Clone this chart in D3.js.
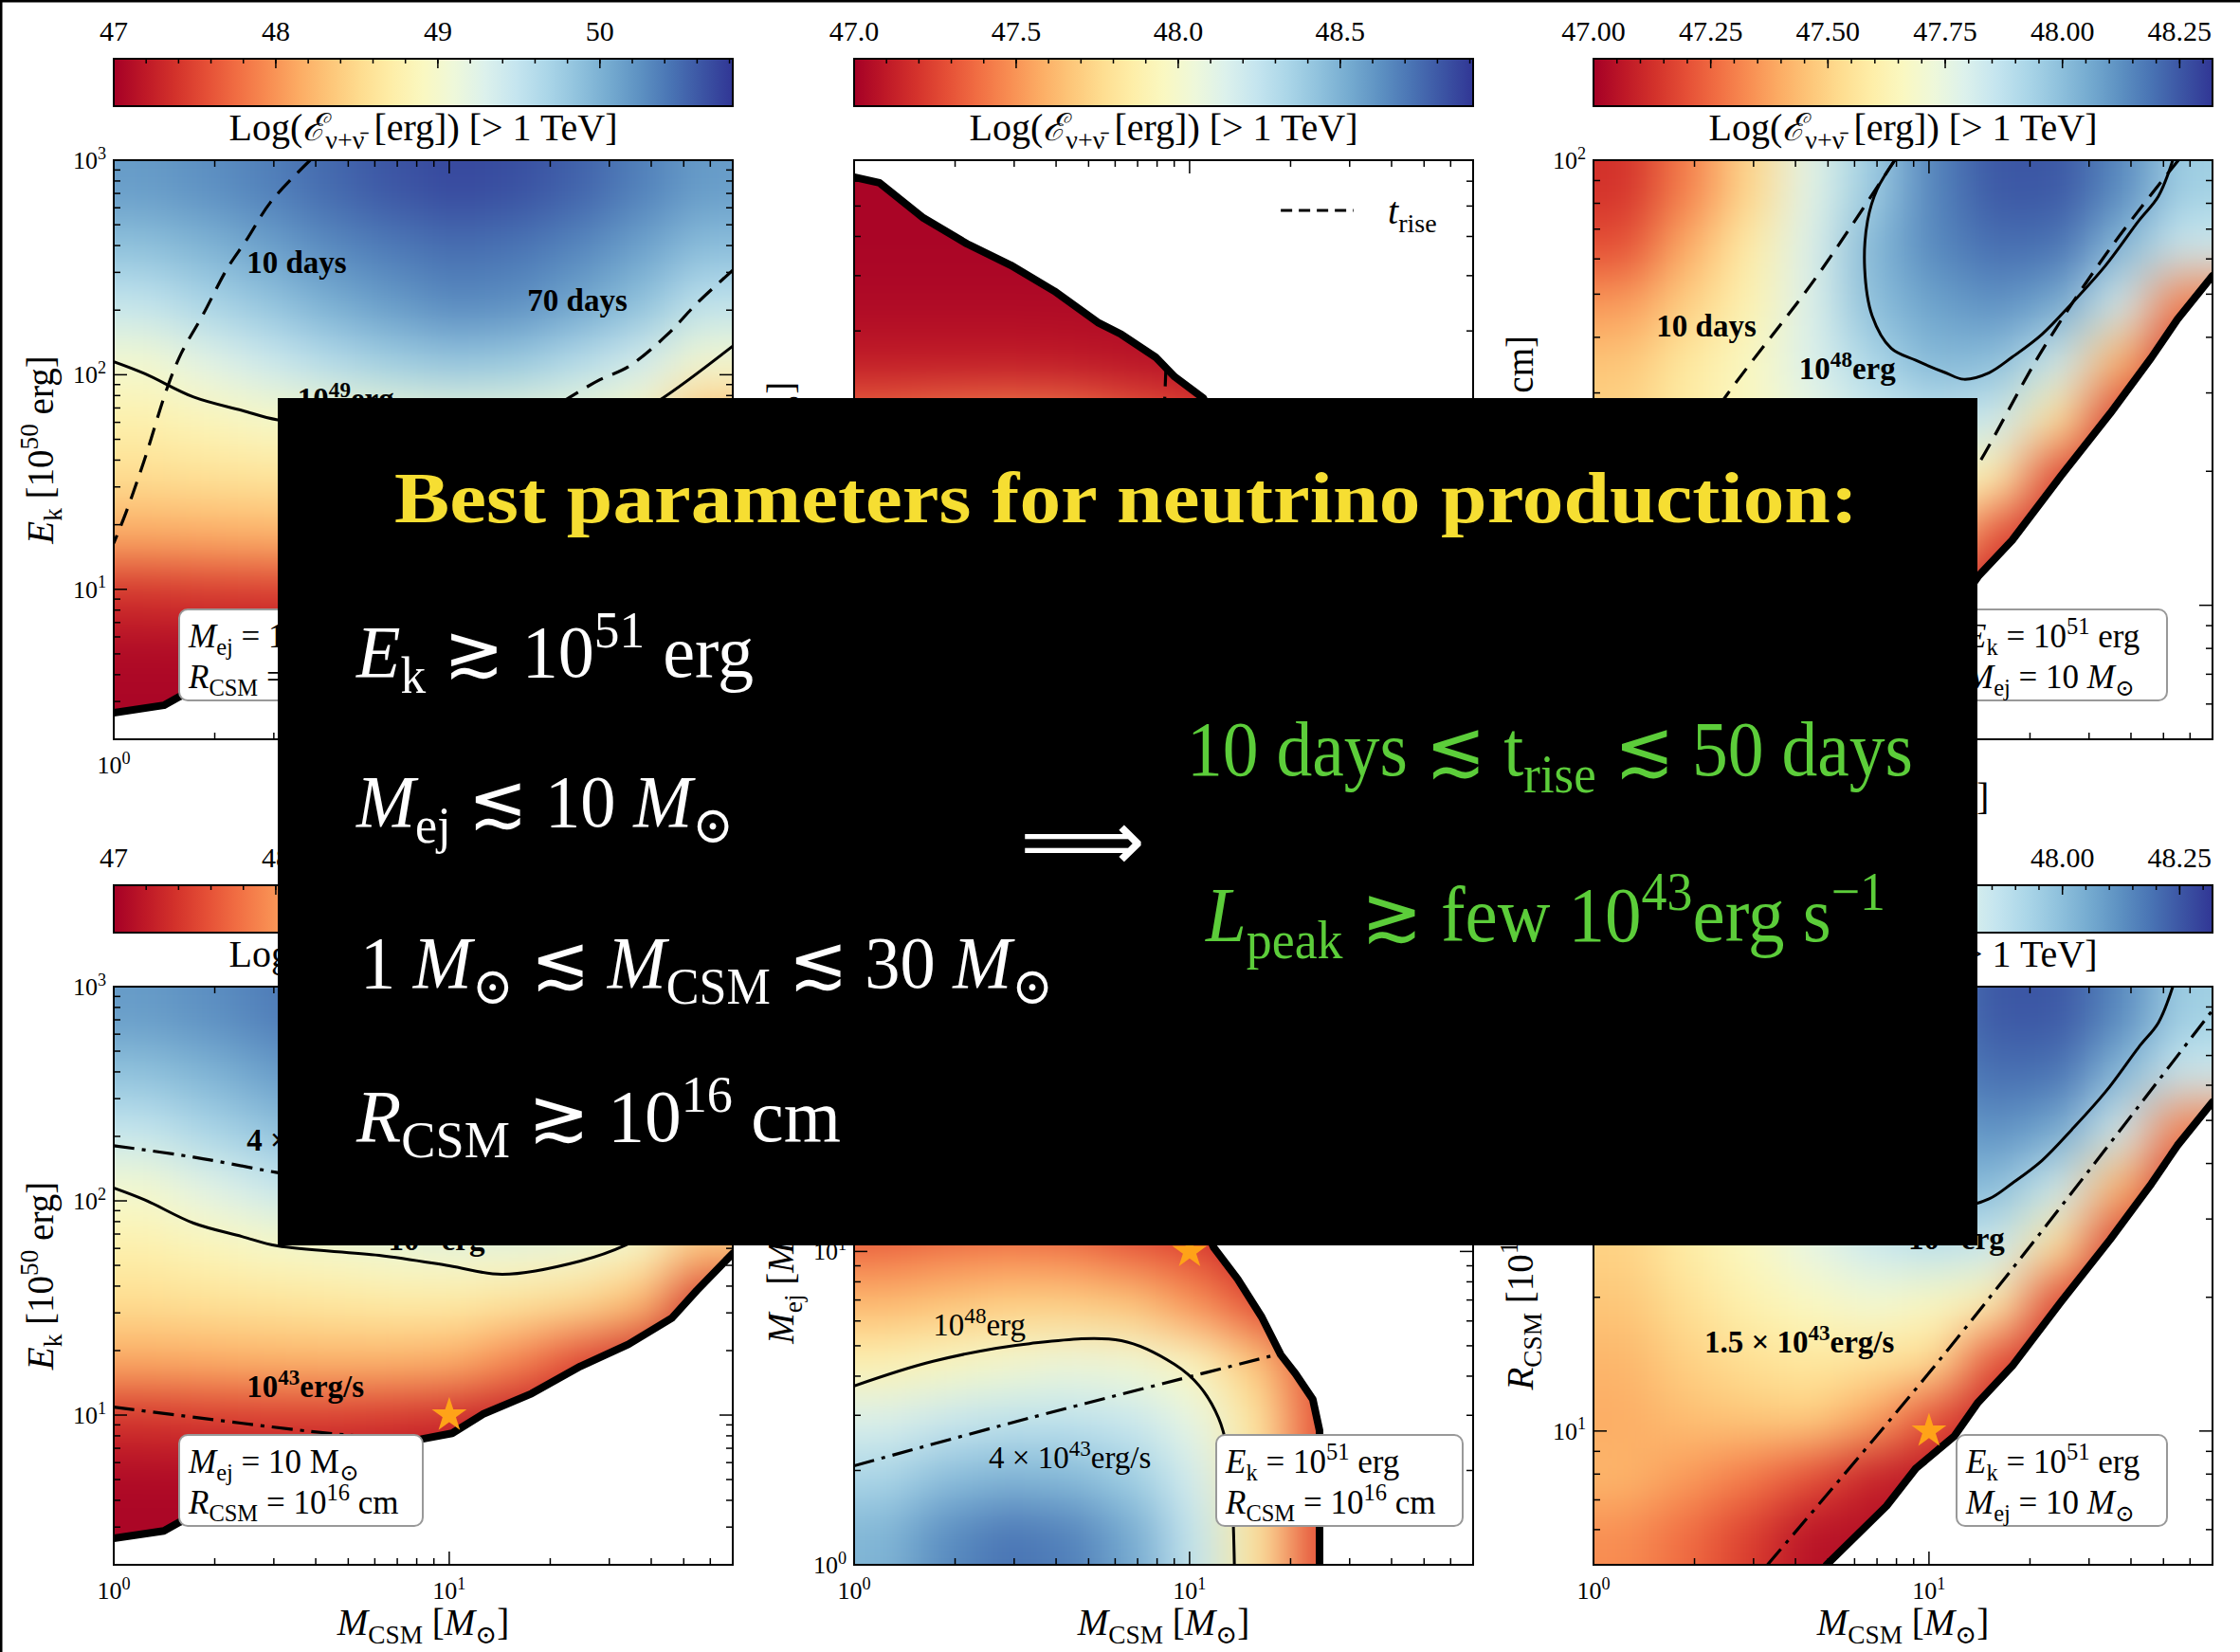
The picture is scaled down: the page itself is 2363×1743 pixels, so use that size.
<!DOCTYPE html>
<html>
<head>
<meta charset="utf-8">
<script src="https://cdn.jsdelivr.net/npm/d3@7"></script>
<style>
  body { margin: 0; background: #fff; }
  text { font-family: "Liberation Serif", "DejaVu Serif", serif; white-space: pre; }
</style>
</head>
<body>
<div id="chart"></div>
<script>
// axis ranges, M_CSM on x for every panel
const mcsmDomain = [1, 70]
const ekDomain = [2, 1000]
const mejDomain = [1, 70]
const rcsmDomain = [5, 100]

const mcsmTicks = [1, 10]
const ekTicks = [10, 100, 1000]
const mejTicks = [1, 10]
const rcsmTicks = [10, 100]

// colour bars, Log(E_nu [erg]) above 1 TeV
const cbDomainEk = [47, 50.82]
const cbDomainMej = [47, 48.91]
const cbDomainRcsm = [47, 48.32]
const cbTicksEk = [47, 48, 49, 50]
const cbTicksMej = [47.0, 47.5, 48.0, 48.5]
const cbTicksRcsm = [47.00, 47.25, 47.50, 47.75, 48.00, 48.25]
const cbMinorEk = 0.2, cbMinorMej = 0.1, cbMinorRcsm = 0.05

// Log(E_nu): rows from top to bottom, columns from M_CSM = 1 to 70
const energyEk = [
  [50.17, 50.25, 50.36, 50.51, 50.63, 50.71, 50.67, 50.55, 50.36, 50.17],
  [49.87, 49.98, 50.13, 50.29, 50.40, 50.48, 50.44, 50.32, 50.13, 49.90],
  [49.48, 49.67, 49.83, 50.02, 50.17, 50.29, 50.25, 50.09, 49.87, 49.52],
  [49.02, 49.22, 49.41, 49.60, 49.75, 49.83, 49.79, 49.60, 49.37, 49.02],
  [48.76, 48.85, 48.95, 48.99, 49.06, 49.10, 49.10, 49.06, 48.91, 48.30],
  [48.53, 48.57, 48.60, 48.64, 48.68, 48.68, 48.60, 48.50, 48.25, 47.40],
  [48.13, 48.15, 48.18, 48.20, 48.20, 48.15, 47.90, 47.55, 47.30, 47.10],
  [47.38, 47.42, 47.44, 47.44, 47.40, 47.33, 47.22, 47.12, 47.06, 47.04],
  [47.08, 47.08, 47.08, 47.08, 47.08, 47.06, 47.04, 47.04, 47.04, 47.04],
  [47.04, 47.04, 47.04, 47.04, 47.04, 47.04, 47.04, 47.04, 47.04, 47.04]
]
const energyMej = [
  [47.02, 47.02, 47.02, 47.02, 47.02, 47.02, 47.02, 47.02, 47.02, 47.02],
  [47.02, 47.02, 47.02, 47.02, 47.02, 47.02, 47.02, 47.02, 47.02, 47.02],
  [47.04, 47.04, 47.04, 47.04, 47.04, 47.04, 47.04, 47.04, 47.04, 47.04],
  [47.11, 47.11, 47.11, 47.10, 47.08, 47.06, 47.04, 47.02, 47.02, 47.02],
  [47.38, 47.42, 47.44, 47.42, 47.34, 47.27, 47.11, 47.04, 47.02, 47.02],
  [47.63, 47.67, 47.71, 47.71, 47.67, 47.50, 47.30, 47.10, 47.04, 47.02],
  [47.90, 47.96, 48.01, 48.05, 48.03, 47.94, 47.68, 47.30, 47.08, 47.04],
  [48.15, 48.22, 48.26, 48.26, 48.22, 48.09, 47.82, 47.32, 47.08, 47.04],
  [48.34, 48.45, 48.49, 48.47, 48.38, 48.18, 47.82, 47.30, 47.08, 47.04],
  [48.49, 48.64, 48.72, 48.68, 48.53, 48.24, 47.82, 47.30, 47.08, 47.04]
]
const energyRcsm = [
  [47.13, 47.30, 47.51, 47.77, 47.96, 48.15, 48.25, 48.25, 48.14, 47.95],
  [47.20, 47.40, 47.59, 47.79, 48.02, 48.14, 48.20, 48.19, 48.02, 47.84],
  [47.36, 47.49, 47.62, 47.79, 48.00, 48.08, 48.12, 48.06, 47.82, 47.30],
  [47.46, 47.57, 47.66, 47.79, 47.92, 48.02, 48.00, 47.83, 47.42, 47.12],
  [47.50, 47.59, 47.66, 47.75, 47.83, 47.87, 47.83, 47.55, 47.15, 47.10],
  [47.46, 47.54, 47.61, 47.66, 47.70, 47.66, 47.60, 47.18, 47.10, 47.10],
  [47.42, 47.49, 47.54, 47.57, 47.55, 47.53, 47.20, 47.10, 47.10, 47.10],
  [47.40, 47.44, 47.46, 47.48, 47.38, 47.20, 47.08, 47.08, 47.08, 47.08],
  [47.42, 47.36, 47.29, 47.20, 47.09, 47.06, 47.06, 47.06, 47.06, 47.06],
  [47.33, 47.26, 47.16, 47.05, 47.04, 47.04, 47.04, 47.04, 47.04, 47.04]
]

// edge of the computed region (thick black line), [M_CSM, y]
const edgeEk = [[1, 2.66], [1.41, 2.88], [1.57, 3.16], [2.2, 4.0], [4.5, 5.8], [8.34, 7.74], [10.2, 8.22],
  [12.6, 10.1], [17.6, 12.6], [24.6, 16.9], [34.2, 21.4], [46.1, 28.4], [54.7, 38.2], [70, 56.8]]
const edgeMej = [[1, 61.8], [1.19, 59.3], [1.61, 45.8], [2.17, 37.9], [2.93, 32.4], [3.95, 26.8], [5.32, 21.3],
  [6.26, 19.5], [7.92, 16.5], [9.02, 14.3], [11.0, 12.2], [11.8, 10.3], [13.9, 8.17], [16.4, 6.18],
  [18.7, 4.68], [20.7, 4.07], [23.3, 3.37], [24.4, 2.68], [24.4, 1]]
const edgeRcsm = [[4.95, 5], [7.47, 6.78], [9.14, 8.24], [11.9, 9.74], [14.0, 11.6], [17.7, 14.0],
  [24.7, 19.5], [34.7, 27], [46, 36], [55, 43.9], [70, 55]]

// neutrino energy contours (solid)
const erg49Ek = [[1, 115], [1.24, 101], [1.73, 78.7], [2.41, 68.2], [3.08, 61.6], [6.18, 55.7], [10, 49.8],
  [14.4, 45.4], [24.6, 52.4], [33.6, 62.2], [43.3, 77.9], [70, 136]]
const erg48Mej = [[1, 3.72], [1.72, 4.46], [3.33, 5.08], [6.26, 5.19], [9.02, 4.36], [10.7, 3.72],
  [12.2, 2.94], [13.0, 2.29], [13.4, 1.61], [13.6, 1]]
const erg48Rcsm = [[7.92, 100], [7.0, 85.9], [6.56, 73.1], [6.43, 57.2], [6.77, 44.7], [7.71, 37.8],
  [9.14, 35.5], [11.2, 33.3], [12.7, 32.2], [15.1, 33.3], [17.7, 36.1], [21.7, 40.6], [26.6, 47.6],
  [33.6, 58.0], [42.2, 73.1], [48.3, 83.0], [53.3, 100]]

// rise time contours (dashed, top row)
const rise10Ek = [[3.85, 1000], [2.94, 640], [2.49, 426], [2.18, 313], [1.84, 189], [1.59, 126],
  [1.44, 86], [1.24, 41], [1.09, 23], [1.0, 16.4]]
const rise70Ek = [[70, 307], [54.7, 215], [44.7, 154], [34.2, 109], [28.2, 95], [23.0, 79], [18, 62]]
const riseMej = [[8.5, 15.2], [8.4, 11]]
const rise10Rcsm = [[7.9, 100], [4.67, 55.3], [2.49, 29.6], [1, 11]]
const riseRightRcsm = [[55.4, 100], [34.7, 63.4], [21.7, 37.3], [14.0, 20.7], [12, 17.5]]

// peak luminosity contours (dash-dot, bottom row)
const lum4Ek = [[1, 181], [1.73, 160], [3.04, 136], [5, 120]]
const lum1Ek = [[1, 10.9], [3.84, 8.4], [7, 7.7]]
const lum4Mej = [[1, 2.07], [3.33, 2.94], [18.1, 4.68]]
const lum15Rcsm = [[3.3, 5.0], [9.75, 13.2], [21.0, 27.3], [70, 88.5]]

// fiducial model (star)
const starEk = [10, 10]
const starMej = [10, 10]
const starRcsm = [10, 10]

// inline contour labels [text, M_CSM, y]
const labelsEkTop = [["10 days", 2.49, 298], ["70 days", 17.1, 198], ["10^{49}erg", 3.53, 68.9]]
const labelsEkBottom = [["4 × 10^{43}erg/s", 2.49, 172], ["10^{43}erg/s", 2.49, 12.1], ["10^{49}erg", 6.58, 58.6]]
const labelsMejTop = []
const labelsMejBottom = [["10^{48}erg", 1.72, 5.38], ["4 × 10^{43}erg/s", 2.52, 2.03]]
const labelsRcsmTop = [["10 days", 1.54, 40.2], ["10^{48}erg", 4.10, 32.2]]
const labelsRcsmBottom = [["1.5 × 10^{43}erg/s", 2.14, 15.0], ["10^{48}erg", 8.67, 25.7]]

// legend of the rise-time line in the top middle panel [M_CSM, M_ej]
const riseKeyLine = [[18.7, 48.4], [30.8, 48.4]]
const riseKeyText = [39, 44]

const legendEk = ["*M*_{ej} = 10 M_{⊙}", "*R*_{CSM} = 10^{16} cm"]
const legendMej = ["*E*_{k} = 10^{51} erg", "*R*_{CSM} = 10^{16} cm"]
const legendRcsm = ["*E*_{k} = 10^{51} erg", "*M*_{ej} = 10 *M*_{⊙}"]

// ---------- layout ----------
const W = 2363, H = 1743
const colX = [120, 901, 1681]
const panelW = 653
const rows = [{ cbTop: 62, top: 169, bottom: 780 }, { cbTop: 934, top: 1041, bottom: 1651 }]
const legendPos = [{ dx: 69, w: 257 }, { dx: 382, w: 260 }, { dx: 383, w: 222 }]

const columns = [
  { key: "ek", yDomain: ekDomain, yTicks: ekTicks, yLabel: "*E*_{k} [10^{50} erg]", field: energyEk,
    cbDomain: cbDomainEk, cbTicks: cbTicksEk, cbMinor: cbMinorEk, cbFmt: d3.format("d"),
    edge: edgeEk, region: edgeEk.concat([[70, 1000], [1, 1000]]), erg: erg49Ek,
    lines: [[rise10Ek, rise70Ek], [lum4Ek, lum1Ek]], labels: [labelsEkTop, labelsEkBottom],
    bold: true, legend: legendEk, star: starEk },
  { key: "mej", yDomain: mejDomain, yTicks: mejTicks, yLabel: "*M*_{ej} [*M*_{⊙}]", field: energyMej,
    cbDomain: cbDomainMej, cbTicks: cbTicksMej, cbMinor: cbMinorMej, cbFmt: d3.format(".1f"),
    edge: edgeMej, region: edgeMej.concat([[1, 1]]), erg: erg48Mej,
    lines: [[riseMej], [lum4Mej]], labels: [labelsMejTop, labelsMejBottom],
    bold: false, legend: legendMej, star: starMej },
  { key: "rcsm", yDomain: rcsmDomain, yTicks: rcsmTicks, yLabel: "*R*_{CSM} [10^{15} cm]", field: energyRcsm,
    cbDomain: cbDomainRcsm, cbTicks: cbTicksRcsm, cbMinor: cbMinorRcsm, cbFmt: d3.format(".2f"),
    edge: edgeRcsm, region: edgeRcsm.concat([[70, 100], [1, 100], [1, 5]]), erg: erg48Rcsm,
    lines: [[rise10Rcsm, riseRightRcsm], [lum15Rcsm]], labels: [labelsRcsmTop, labelsRcsmBottom],
    bold: true, legend: legendRcsm, star: starRcsm }
]

const svg = d3.select("#chart").append("svg")
  .attr("width", W).attr("height", H).style("display", "block")
svg.append("rect").attr("width", W).attr("height", H).attr("fill", "#fff")
const defs = svg.append("defs")
const soft = defs.append("filter").attr("id", "soft")
  .attr("x", "-10%").attr("y", "-10%").attr("width", "120%").attr("height", "120%")
  .attr("color-interpolation-filters", "sRGB")
soft.append("feGaussianBlur").attr("stdDeviation", 26)

// *..* italic, _{..} subscript, ^{..} superscript
function rich(sel, str, fs) {
  const parts = []
  let i = 0, ital = false, buf = ""
  const flush = () => { if (buf) parts.push({ t: buf, i: ital, s: 0 }); buf = "" }
  while (i < str.length) {
    const ch = str[i]
    if (ch === "*") { flush(); ital = !ital; i++ }
    else if ((ch === "_" || ch === "^") && str[i + 1] === "{") {
      flush()
      const end = str.indexOf("}", i)
      parts.push({ t: str.slice(i + 2, end), i: ital, s: ch === "_" ? 1 : -1 })
      i = end + 1
    } else { buf += ch; i++ }
  }
  flush()
  let off = 0
  parts.forEach(p => {
    const target = p.s === 1 ? 0.22 * fs : p.s === -1 ? -0.4 * fs : 0
    const ts = sel.append("tspan").text(p.t).attr("dy", target - off)
    off = target
    if (p.s) ts.attr("font-size", 0.7 * fs)
    if (p.i && p.s !== 1) ts.attr("font-style", "italic")
  })
  return sel
}

function drawColorbar(g, col, color, x0, top) {
  const id = "grad-" + col.key
  if (defs.select("#" + id).empty()) {
    const grad = defs.append("linearGradient").attr("id", id)
    d3.range(0, 1.0001, 0.05).forEach(t => grad.append("stop").attr("offset", t)
      .attr("stop-color", color(col.cbDomain[0] + t * (col.cbDomain[1] - col.cbDomain[0]))))
  }
  const s = d3.scaleLinear().domain(col.cbDomain).range([x0, x0 + panelW])
  g.append("rect").attr("x", x0).attr("y", top).attr("width", panelW).attr("height", 50)
    .attr("fill", `url(#${id})`).attr("stroke", "#000").attr("stroke-width", 2)
  const minors = d3.range(col.cbDomain[0], col.cbDomain[1], col.cbMinor)
  g.selectAll(null).data(minors).join("line")
    .attr("x1", d => s(d)).attr("x2", d => s(d)).attr("y1", top).attr("y2", top + 5)
    .attr("stroke", "#000").attr("stroke-width", 1.5)
  g.selectAll(null).data(col.cbTicks).join("line")
    .attr("x1", d => s(d)).attr("x2", d => s(d)).attr("y1", top).attr("y2", top + 10)
    .attr("stroke", "#000").attr("stroke-width", 1.5)
  g.selectAll(null).data(col.cbTicks).join("text")
    .attr("x", d => s(d)).attr("y", top - 19).attr("text-anchor", "middle")
    .attr("font-size", 30).text(col.cbFmt)
  const lab = g.append("text").attr("x", x0 + panelW / 2).attr("y", top + 86)
    .attr("text-anchor", "middle").attr("font-size", 40)
  rich(lab, "Log(*ℰ*_{ν+ν̄} [erg]) [> 1 TeV]", 40)
}

function drawPanel(c, r) {
  const col = columns[c]
  const row = rows[r]
  const x0 = colX[c], x1 = x0 + panelW
  const x = d3.scaleLog().domain(mcsmDomain).range([x0, x1])
  const y = d3.scaleLog().domain(col.yDomain).range([row.bottom, row.top])
  const color = d3.scaleSequential(d3.interpolateRdYlBu).domain(col.cbDomain).clamp(true)
  const g = svg.append("g")

  drawColorbar(g, col, color, x0, row.cbTop)

  // heat map clipped to the computed region
  const clipId = "clip-" + c + "-" + r
  defs.append("clipPath").attr("id", clipId).append("path")
    .attr("d", d3.line().x(d => x(d[0])).y(d => y(d[1]))(col.region) + "Z")
  const rectId = "rect-" + c + "-" + r
  defs.append("clipPath").attr("id", rectId).append("rect")
    .attr("x", x0).attr("y", row.top).attr("width", panelW).attr("height", row.bottom - row.top)

  const nR = col.field.length, nC = col.field[0].length
  const bx = d3.scaleBand().domain(d3.range(nC)).range([x0, x1])
  const by = d3.scaleBand().domain(d3.range(nR)).range([row.top, row.bottom])
  const cells = col.field.flatMap((vals, i) => vals.map((v, j) => ({ i, j, v })))
  g.append("g").attr("clip-path", `url(#${clipId})`)
    .append("g").attr("filter", "url(#soft)")
    .selectAll("rect").data(cells).join("rect")
    .attr("x", d => bx(d.j) - (d.j === 0 ? bx.bandwidth() : 0))
    .attr("y", d => by(d.i) - (d.i === 0 ? by.bandwidth() : 0))
    .attr("width", d => bx.bandwidth() * ((d.j === 0 || d.j === nC - 1) ? 2 : 1) + 0.5)
    .attr("height", d => by.bandwidth() * ((d.i === 0 || d.i === nR - 1) ? 2 : 1) + 0.5)
    .attr("fill", d => color(d.v))

  const line = d3.line().x(d => x(d[0])).y(d => y(d[1])).curve(d3.curveCatmullRom.alpha(0.5))
  const plot = g.append("g").attr("clip-path", `url(#${rectId})`)
  plot.append("path").attr("d", line(col.erg)).attr("fill", "none")
    .attr("stroke", "#000").attr("stroke-width", 3)
  col.lines[r].forEach(pts => {
    plot.append("path").attr("d", line(pts)).attr("fill", "none")
      .attr("stroke", "#000").attr("stroke-width", 3.2)
      .attr("stroke-dasharray", r === 0 ? "19,11" : "22,8,4,8")
  })
  plot.append("path").attr("d", d3.line().x(d => x(d[0])).y(d => y(d[1]))(col.edge))
    .attr("fill", "none").attr("stroke", "#000").attr("stroke-width", 8)
    .attr("stroke-linejoin", "round").attr("stroke-linecap", "round")

  // frame and inward ticks on all sides
  g.append("rect").attr("x", x0).attr("y", row.top).attr("width", panelW)
    .attr("height", row.bottom - row.top).attr("fill", "none").attr("stroke", "#000").attr("stroke-width", 2)
  const isDecade = v => Math.abs(Math.log10(v) - Math.round(Math.log10(v))) < 1e-6
  const segs = []
  x.ticks().forEach(v => {
    const L = isDecade(v) ? 14 : 7, p = x(v)
    segs.push([p, row.bottom, p, row.bottom - L], [p, row.top, p, row.top + L])
  })
  y.ticks().forEach(v => {
    const L = isDecade(v) ? 14 : 7, p = y(v)
    segs.push([x0, p, x0 + L, p], [x1, p, x1 - L, p])
  })
  g.selectAll(null).data(segs).join("line")
    .attr("x1", d => d[0]).attr("y1", d => d[1]).attr("x2", d => d[2]).attr("y2", d => d[3])
    .attr("stroke", "#000").attr("stroke-width", 1.5)

  g.selectAll(null).data(mcsmTicks).join("text")
    .attr("x", d => x(d)).attr("y", row.bottom + 36).attr("text-anchor", "middle").attr("font-size", 26)
    .each(function (d) { rich(d3.select(this), `10^{${Math.round(Math.log10(d))}}`, 26) })
  g.selectAll(null).data(col.yTicks).join("text")
    .attr("x", x0 - 8).attr("y", d => y(d) + 9).attr("text-anchor", "end").attr("font-size", 26)
    .each(function (d) { rich(d3.select(this), `10^{${Math.round(Math.log10(d))}}`, 26) })

  rich(g.append("text").attr("x", x0 + panelW / 2).attr("y", row.bottom + 74)
    .attr("text-anchor", "middle").attr("font-size", 39), "*M*_{CSM} [*M*_{⊙}]", 39)
  rich(g.append("text").attr("transform", `translate(${x0 - 64},${(row.top + row.bottom) / 2}) rotate(-90)`)
    .attr("text-anchor", "middle").attr("font-size", 39), col.yLabel, 39)

  // contour labels
  col.labels[r].forEach(l => {
    const t = g.append("text").attr("x", x(l[1])).attr("y", y(l[2])).attr("font-size", 33)
    if (col.bold) t.attr("font-weight", "bold")
    rich(t, l[0], 33)
  })

  // parameter box
  const lp = legendPos[c]
  const ly = row.bottom - 137
  g.append("rect").attr("x", x0 + lp.dx).attr("y", ly).attr("width", lp.w).attr("height", 96)
    .attr("rx", 9).attr("fill", "#fff").attr("stroke", "#999").attr("stroke-width", 2)
  col.legend.forEach((s, k) => {
    rich(g.append("text").attr("x", x0 + lp.dx + 10).attr("y", ly + 40 + 43 * k).attr("font-size", 35), s, 35)
  })

  if (c === 1 && r === 0) {
    g.append("path").attr("d", d3.line().x(d => x(d[0])).y(d => y(d[1]))(riseKeyLine))
      .attr("stroke", "#000").attr("stroke-width", 3).attr("stroke-dasharray", "12,7")
    rich(g.append("text").attr("x", x(riseKeyText[0])).attr("y", y(riseKeyText[1])).attr("font-size", 40), "*t*_{rise}", 40)
  }

  if (r === 1) {
    g.append("path").attr("d", d3.symbol(d3.symbolStar, 420)())
      .attr("transform", `translate(${x(col.star[0])},${y(col.star[1])})`)
      .attr("fill", "#ffa318")
  }
}

for (let r = 0; r < 2; r++) for (let c = 0; c < 3; c++) drawPanel(c, r)

svg.append("line").attr("x1", 1).attr("x2", 1).attr("y1", 0).attr("y2", H).attr("stroke", "#000").attr("stroke-width", 3)
svg.append("line").attr("x1", 0).attr("x2", W).attr("y1", 1).attr("y2", 1).attr("stroke", "#000").attr("stroke-width", 3)

// summary box laid over the figure
const box = svg.append("g")
box.append("rect").attr("x", 293).attr("y", 420).attr("width", 1793).attr("height", 894).attr("fill", "#000")
function boxText(str, bx, byy, fs, fill, len, bold, family) {
  const t = box.append("text").attr("x", bx).attr("y", byy).attr("font-size", fs).attr("fill", fill)
    .attr("textLength", len).attr("lengthAdjust", "spacingAndGlyphs")
  if (bold) t.attr("font-weight", "bold")
  if (family) t.style("font-family", family)
  rich(t, str, fs)
}
boxText("Best parameters for neutrino production:", 416, 551, 76, "#f6de32", 1544, true)
boxText("*E*_{k} ≳ 10^{51} erg", 376, 714, 78, "#fff", 419)
boxText("*M*_{ej} ≲ 10 *M*_{⊙}", 376, 872, 78, "#fff", 398)
boxText("1 *M*_{⊙} ≲ *M*_{CSM} ≲ 30 *M*_{⊙}", 380, 1042, 78, "#fff", 731)
boxText("*R*_{CSM} ≳ 10^{16} cm", 376, 1204, 78, "#fff", 511)
boxText("⟹", 1076, 918, 90, "#fff", 132, false, "DejaVu Sans")
boxText("10 days ≲ t_{rise} ≲ 50 days", 1252, 818, 82, "#5ccd3a", 766)
boxText("*L*_{peak} ≳ few 10^{43}erg s^{−1}", 1272, 993, 82, "#5ccd3a", 717)
</script>
</body>
</html>
